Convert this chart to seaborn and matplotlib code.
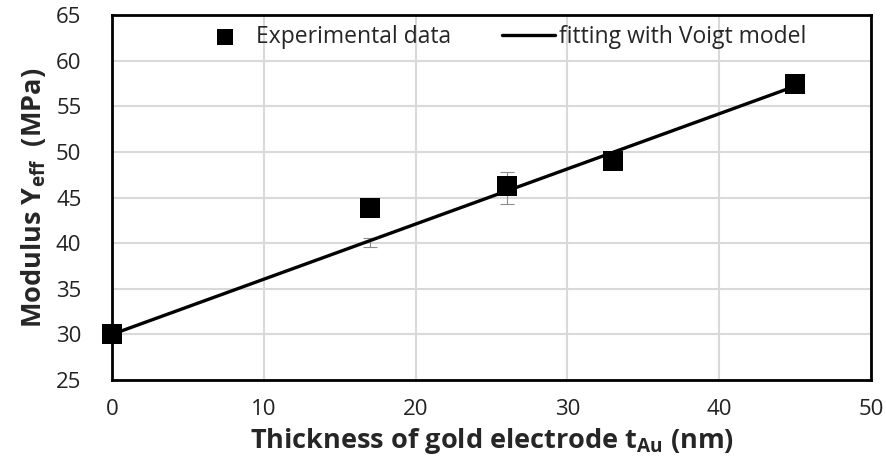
import numpy as np
import pandas as pd
import matplotlib
matplotlib.use("Agg")
import matplotlib.pyplot as plt
import seaborn as sns

# dados
espessura = [0, 17, 26, 33, 45]
modulo = [30.0, 43.8, 46.3, 49.0, 57.4]
erro_x = [17, 26]
erro_centro = [40.1, 46.0]
erro_meia = [0.5, 1.75]
ajuste_x = [0, 45]
ajuste_y = [30.0, 57.2]

sns.set_theme(style="white")
plt.rcParams['font.family'] = ['Open Sans', 'DejaVu Sans']
plt.rcParams['mathtext.fontset'] = 'custom'
plt.rcParams['mathtext.bf'] = 'Open Sans:bold'
plt.rcParams['mathtext.rm'] = 'Open Sans:bold'

df = pd.DataFrame({'t': espessura, 'Y': modulo})
df_fit = pd.DataFrame({'t': ajuste_x, 'Y': ajuste_y})

fig = plt.figure(figsize=(8.86, 4.70), dpi=100)
ax = fig.add_axes([112 / 886, 1 - 380 / 470, (871 - 112) / 886, (380 - 15) / 470])

ax.errorbar(erro_x, erro_centro, yerr=erro_meia, fmt='none', ecolor='#8c8c8c',
            elinewidth=0.8, capsize=5, capthick=0.8, zorder=2)
sns.lineplot(data=df_fit, x='t', y='Y', color='black', linewidth=2.4, ax=ax,
             label='fitting with Voigt model', zorder=3)
sns.scatterplot(data=df, x='t', y='Y', marker='s', s=190, color='black',
                edgecolor='black', linewidth=0, ax=ax, label='Experimental data',
                zorder=4, clip_on=False)

ax.set_xlim(0, 50)
ax.set_ylim(25, 65)
ax.set_xticks(np.arange(0, 51, 10))
ax.set_yticks(np.arange(25, 66, 5))
ax.grid(True, color='#d9d9d9', linewidth=1.5)
ax.set_axisbelow(True)
for s in ax.spines.values():
    s.set_color('black')
    s.set_linewidth(2)
ax.tick_params(axis='x', labelsize=16, length=0, pad=14, colors='#222222')
ax.tick_params(axis='y', labelsize=16, length=0, pad=22, colors='#222222')

ax.set_xlabel(r'Thickness of gold electrode t$_{\mathbf{Au}}$ (nm)', fontsize=19.5,
              fontweight='bold', labelpad=4)
ax.set_ylabel(r'Modulus Y$_{\mathbf{eff}}$  (MPa)', fontsize=19.5,
              fontweight='bold', labelpad=6)

h, l = ax.get_legend_handles_labels()
ax.legend([h[1], h[0]], [l[1], l[0]], loc='upper center', ncol=2, frameon=False,
          fontsize=16.5, bbox_to_anchor=(0.515, 1.03), handlelength=2.3,
          handletextpad=0.2, columnspacing=2.2, markerscale=0.85)

fig.savefig('out.png', dpi=100)
